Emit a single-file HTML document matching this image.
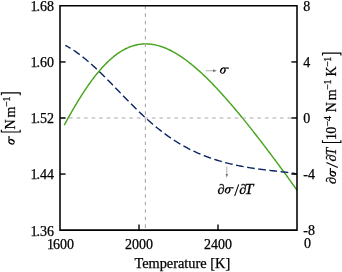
<!DOCTYPE html>
<html><head><meta charset="utf-8"><style>
html,body{margin:0;padding:0;background:#fff;}
svg{display:block;will-change:transform;}
text{font-family:"Liberation Serif",serif;font-size:14px;fill:#000;stroke:#000;stroke-width:0.25px;}
</style></head><body>
<svg width="342" height="272" viewBox="0 0 342 272">
<defs><g id="sig"><path fill-rule="evenodd" fill="#000" d="M5.342,-1.888 A2.75,3.1 25 1 1 0.358,-4.212 A2.75,3.1 25 1 1 5.342,-1.888 Z M4.028,-2.501 A1.3,2.3 25 1 0 1.672,-3.599 A1.3,2.3 25 1 0 4.028,-2.501 Z"/><path d="M2.6,-6.15 L8.8,-6.2 L8.8,-4.95 L4.8,-5.15 Z" fill="#000"/></g></defs>
<rect width="342" height="272" fill="#fff"/>
<g class="t">
<path d="M64.20,125.24 L65.20,123.39 L66.20,121.56 L67.20,119.74 L68.20,117.93 L69.20,116.14 L70.20,114.36 L71.20,112.60 L72.20,110.86 L73.20,109.13 L74.20,107.42 L75.20,105.72 L76.20,104.04 L77.20,102.38 L78.20,100.74 L79.20,99.12 L80.20,97.51 L81.20,95.93 L82.20,94.36 L83.20,92.82 L84.20,91.29 L85.20,89.78 L86.20,88.30 L87.20,86.83 L88.20,85.39 L89.20,83.97 L90.20,82.57 L91.20,81.19 L92.20,79.84 L93.20,78.51 L94.20,77.20 L95.20,75.92 L96.20,74.65 L97.20,73.42 L98.20,72.20 L99.20,71.01 L100.20,69.85 L101.20,68.71 L102.20,67.59 L103.20,66.50 L104.20,65.43 L105.20,64.39 L106.20,63.38 L107.20,62.39 L108.20,61.42 L109.20,60.49 L110.20,59.57 L111.20,58.69 L112.20,57.82 L113.20,56.99 L114.20,56.18 L115.20,55.40 L116.20,54.64 L117.20,53.91 L118.20,53.21 L119.20,52.53 L120.20,51.88 L121.20,51.25 L122.20,50.65 L123.20,50.08 L124.20,49.53 L125.20,49.01 L126.20,48.51 L127.20,48.04 L128.20,47.60 L129.20,47.18 L130.20,46.79 L131.20,46.42 L132.20,46.08 L133.20,45.77 L134.20,45.47 L135.20,45.21 L136.20,44.97 L137.20,44.75 L138.20,44.56 L139.20,44.39 L140.20,44.25 L141.20,44.13 L142.20,44.04 L143.20,43.96 L144.20,43.92 L145.20,43.89 L146.20,43.89 L147.20,43.91 L148.20,43.96 L149.20,44.02 L150.20,44.11 L151.20,44.23 L152.20,44.36 L153.20,44.51 L154.20,44.69 L155.20,44.89 L156.20,45.11 L157.20,45.35 L158.20,45.61 L159.20,45.89 L160.20,46.19 L161.20,46.51 L162.20,46.85 L163.20,47.21 L164.20,47.59 L165.20,47.99 L166.20,48.40 L167.20,48.84 L168.20,49.29 L169.20,49.76 L170.20,50.25 L171.20,50.76 L172.20,51.28 L173.20,51.82 L174.20,52.38 L175.20,52.95 L176.20,53.54 L177.20,54.14 L178.20,54.76 L179.20,55.40 L180.20,56.05 L181.20,56.72 L182.20,57.40 L183.20,58.09 L184.20,58.80 L185.20,59.53 L186.20,60.26 L187.20,61.01 L188.20,61.78 L189.20,62.56 L190.20,63.35 L191.20,64.15 L192.20,64.96 L193.20,65.79 L194.20,66.63 L195.20,67.48 L196.20,68.35 L197.20,69.22 L198.20,70.11 L199.20,71.01 L200.20,71.91 L201.20,72.83 L202.20,73.76 L203.20,74.70 L204.20,75.65 L205.20,76.61 L206.20,77.58 L207.20,78.56 L208.20,79.55 L209.20,80.54 L210.20,81.55 L211.20,82.57 L212.20,83.59 L213.20,84.62 L214.20,85.66 L215.20,86.71 L216.20,87.77 L217.20,88.84 L218.20,89.91 L219.20,90.99 L220.20,92.08 L221.20,93.18 L222.20,94.28 L223.20,95.39 L224.20,96.51 L225.20,97.63 L226.20,98.76 L227.20,99.90 L228.20,101.04 L229.20,102.19 L230.20,103.35 L231.20,104.51 L232.20,105.68 L233.20,106.86 L234.20,108.04 L235.20,109.22 L236.20,110.41 L237.20,111.61 L238.20,112.81 L239.20,114.02 L240.20,115.23 L241.20,116.45 L242.20,117.67 L243.20,118.90 L244.20,120.13 L245.20,121.37 L246.20,122.61 L247.20,123.86 L248.20,125.11 L249.20,126.36 L250.20,127.62 L251.20,128.88 L252.20,130.15 L253.20,131.42 L254.20,132.70 L255.20,133.97 L256.20,135.26 L257.20,136.54 L258.20,137.83 L259.20,139.12 L260.20,140.42 L261.20,141.72 L262.20,143.02 L263.20,144.33 L264.20,145.64 L265.20,146.95 L266.20,148.27 L267.20,149.58 L268.20,150.91 L269.20,152.23 L270.20,153.56 L271.20,154.89 L272.20,156.22 L273.20,157.56 L274.20,158.89 L275.20,160.24 L276.20,161.58 L277.20,162.93 L278.20,164.28 L279.20,165.63 L280.20,166.98 L281.20,168.34 L282.20,169.70 L283.20,171.07 L284.20,172.43 L285.20,173.80 L286.20,175.17 L287.20,176.55 L288.20,177.93 L289.20,179.31 L290.20,180.70 L291.20,182.09 L292.20,183.48 L293.20,184.88 L294.20,186.28 L295.20,187.69 L296.20,189.10 L297.00,190.23" fill="none" stroke="#47a41d" stroke-width="1.45"/>
<path d="M65.30,45.30 L66.30,45.85 L67.30,46.42 L68.30,47.00 L69.30,47.59 L70.30,48.20 L71.30,48.82 L72.30,49.46 L73.30,50.11 L74.30,50.77 L75.30,51.45 L76.30,52.14 L77.30,52.85 L78.30,53.57 L79.30,54.31 L80.30,55.06 L81.30,55.82 L82.30,56.60 L83.30,57.39 L84.30,58.19 L85.30,59.01 L86.30,59.83 L87.30,60.67 L88.30,61.53 L89.30,62.39 L90.30,63.26 L91.30,64.15 L92.30,65.05 L93.30,65.95 L94.30,66.87 L95.30,67.80 L96.30,68.73 L97.30,69.67 L98.30,70.63 L99.30,71.59 L100.30,72.55 L101.30,73.53 L102.30,74.51 L103.30,75.50 L104.30,76.49 L105.30,77.49 L106.30,78.50 L107.30,79.51 L108.30,80.52 L109.30,81.54 L110.30,82.56 L111.30,83.58 L112.30,84.61 L113.30,85.64 L114.30,86.67 L115.30,87.70 L116.30,88.74 L117.30,89.77 L118.30,90.80 L119.30,91.84 L120.30,92.87 L121.30,93.90 L122.30,94.94 L123.30,95.97 L124.30,96.99 L125.30,98.02 L126.30,99.04 L127.30,100.06 L128.30,101.08 L129.30,102.09 L130.30,103.10 L131.30,104.11 L132.30,105.11 L133.30,106.11 L134.30,107.10 L135.30,108.08 L136.30,109.06 L137.30,110.04 L138.30,111.01 L139.30,111.97 L140.30,112.92 L141.30,113.87 L142.30,114.81 L143.30,115.75 L144.30,116.67 L145.30,117.59 L146.30,118.50 L147.30,119.41 L148.30,120.30 L149.30,121.19 L150.30,122.07 L151.30,122.93 L152.30,123.80 L153.30,124.65 L154.30,125.49 L155.30,126.32 L156.30,127.15 L157.30,127.97 L158.30,128.77 L159.30,129.57 L160.30,130.36 L161.30,131.13 L162.30,131.90 L163.30,132.66 L164.30,133.41 L165.30,134.15 L166.30,134.88 L167.30,135.60 L168.30,136.31 L169.30,137.01 L170.30,137.70 L171.30,138.38 L172.30,139.05 L173.30,139.71 L174.30,140.37 L175.30,141.01 L176.30,141.64 L177.30,142.26 L178.30,142.88 L179.30,143.48 L180.30,144.08 L181.30,144.66 L182.30,145.24 L183.30,145.81 L184.30,146.36 L185.30,146.91 L186.30,147.45 L187.30,147.98 L188.30,148.51 L189.30,149.02 L190.30,149.53 L191.30,150.02 L192.30,150.51 L193.30,150.99 L194.30,151.46 L195.30,151.92 L196.30,152.38 L197.30,152.83 L198.30,153.27 L199.30,153.70 L200.30,154.12 L201.30,154.54 L202.30,154.95 L203.30,155.35 L204.30,155.74 L205.30,156.13 L206.30,156.51 L207.30,156.89 L208.30,157.25 L209.30,157.61 L210.30,157.97 L211.30,158.32 L212.30,158.66 L213.30,158.99 L214.30,159.32 L215.30,159.64 L216.30,159.96 L217.30,160.27 L218.30,160.58 L219.30,160.88 L220.30,161.17 L221.30,161.46 L222.30,161.74 L223.30,162.02 L224.30,162.30 L225.30,162.56 L226.30,162.83 L227.30,163.08 L228.30,163.34 L229.30,163.59 L230.30,163.83 L231.30,164.07 L232.30,164.30 L233.30,164.53 L234.30,164.76 L235.30,164.98 L236.30,165.20 L237.30,165.41 L238.30,165.62 L239.30,165.82 L240.30,166.02 L241.30,166.22 L242.30,166.41 L243.30,166.60 L244.30,166.79 L245.30,166.97 L246.30,167.14 L247.30,167.32 L248.30,167.49 L249.30,167.66 L250.30,167.82 L251.30,167.98 L252.30,168.14 L253.30,168.29 L254.30,168.44 L255.30,168.59 L256.30,168.73 L257.30,168.87 L258.30,169.01 L259.30,169.15 L260.30,169.28 L261.30,169.41 L262.30,169.54 L263.30,169.67 L264.30,169.79 L265.30,169.91 L266.30,170.03 L267.30,170.15 L268.30,170.26 L269.30,170.38 L270.30,170.49 L271.30,170.60 L272.30,170.71 L273.30,170.82 L274.30,170.93 L275.30,171.04 L276.30,171.15 L277.30,171.26 L278.30,171.37 L279.30,171.48 L280.30,171.59 L281.30,171.70 L282.30,171.82 L283.30,171.93 L284.30,172.05 L285.30,172.18 L286.30,172.30 L287.30,172.43 L288.30,172.56 L289.30,172.70 L290.30,172.84 L291.30,172.99 L292.30,173.15 L293.30,173.31 L294.30,173.48 L295.30,173.65 L296.30,173.84 L297.00,173.98" fill="none" stroke="#0a2562" stroke-width="1.4" stroke-dasharray="7.7 3.55" stroke-dashoffset="1.7"/>
<line x1="61.47" y1="118.0" x2="297.0" y2="118.0" stroke="#a9a9a9" stroke-width="1.1" stroke-dasharray="3.6 3.936"/>
<line x1="145.4" y1="5.76" x2="145.4" y2="230.1" stroke="#a9a9a9" stroke-width="1.1" stroke-dasharray="3.6 3.936"/>
<path d="M60.0,5.8 H297.0 M297.0,5.8 V230.1 M60.0,230.1 H297.0 M60.0,5.8 V230.1" fill="none" stroke="#000" stroke-width="1.55" stroke-linecap="square"/>
<line x1="60.0" y1="61.95" x2="65.6" y2="61.95" stroke="#000" stroke-width="1.4"/>
<line x1="291.4" y1="61.95" x2="297.0" y2="61.95" stroke="#000" stroke-width="1.4"/>
<line x1="60.0" y1="118.00" x2="65.6" y2="118.00" stroke="#000" stroke-width="1.4"/>
<line x1="291.4" y1="118.00" x2="297.0" y2="118.00" stroke="#000" stroke-width="1.4"/>
<line x1="60.0" y1="174.05" x2="65.6" y2="174.05" stroke="#000" stroke-width="1.4"/>
<line x1="291.4" y1="174.05" x2="297.0" y2="174.05" stroke="#000" stroke-width="1.4"/>
<line x1="139.00" y1="230.1" x2="139.00" y2="224.5" stroke="#000" stroke-width="1.4"/>
<line x1="218.00" y1="230.1" x2="218.00" y2="224.5" stroke="#000" stroke-width="1.4"/>
<text x="54.1" y="11.15" text-anchor="end">.68</text>
<text x="30.40" y="11.15">1</text>
<text x="54.1" y="67.05" text-anchor="end">.60</text>
<text x="30.40" y="67.05">1</text>
<text x="54.1" y="122.95" text-anchor="end">.52</text>
<text x="30.40" y="122.95">1</text>
<text x="54.1" y="178.85" text-anchor="end">.44</text>
<text x="30.40" y="178.85">1</text>
<text x="54.1" y="235.65" text-anchor="end">.36</text>
<text x="30.40" y="235.65">1</text>
<text x="303.3" y="11.05">8</text>
<text x="303.3" y="66.95">4</text>
<text x="303.3" y="122.85">0</text>
<text x="303.3" y="178.75">-4</text>
<text x="303.3" y="235.15">-8</text>
<text x="46.90" y="248.5">1</text>
<text x="53.00" y="248.5">600</text>
<text x="139.00" y="248.5" text-anchor="middle">2000</text>
<text x="218.00" y="248.5" text-anchor="middle">2400</text>
<text x="303.9" y="248.1">0</text>
<text x="134.4" y="267.9" style="font-size:14.35px">Temperature [K]</text>
<line x1="205.6" y1="70.7" x2="213.5" y2="70.7" stroke="#b8b8b8" stroke-width="1.15"/><path d="M213.0,69.2 L216.8,70.7 L213.0,72.2 Z" fill="#7a7a7a"/>
<use href="#sig" transform="translate(220.0,73.7)"/>
<line x1="226.8" y1="166.6" x2="226.8" y2="174.6" stroke="#b8b8b8" stroke-width="1.15"/><path d="M225.5,174.1 L226.8,177.8 L228.1,174.1 Z" fill="#7a7a7a"/>
<text x="217.6" y="193.5" font-style="italic">∂</text>
<use href="#sig" transform="translate(224.8,193.5)"/>
<path d="M238.7,184.40 L234.7,195.90" stroke="#000" stroke-width="1.05"/>
<text x="239.2" y="193.5" font-style="italic">∂</text>
<text x="0" y="0" font-style="italic" transform="translate(244.6,193.5) scale(1.14,1)">T</text>
<use href="#sig" transform="translate(14.6,144.7) rotate(-90)"/>
<path d="M1.4,129.65 L1.4,131.95 L20.2,131.95 L20.2,129.65" fill="none" stroke="#000" stroke-width="1.15"/>
<text x="0" y="0" style="font-size:14px" transform="translate(14.60,129.40) rotate(-90)">N</text>
<text x="0" y="0" style="font-size:14px" transform="translate(14.60,117.43) rotate(-90)">m</text>
<text x="0" y="0" style="font-size:10px" transform="translate(10.25,106.67) rotate(-90)">−</text>
<text x="0" y="0" style="font-size:10px" transform="translate(9.70,101.54) rotate(-90)">1</text>
<path d="M1.4,95.15 L1.4,92.85 L20.2,92.85 L20.2,95.15" fill="none" stroke="#000" stroke-width="1.15"/>
<text x="0" y="0" style="font-size:14px" font-style="italic" transform="translate(336.00,184.00) rotate(-90)">∂</text>
<use href="#sig" transform="translate(336.0,176.7) rotate(-90)"/>
<path d="M326.40,162.4 L337.80,167.5" stroke="#000" stroke-width="1.05"/>
<text x="0" y="0" style="font-size:14px" font-style="italic" transform="translate(336.00,161.50) rotate(-90)">∂</text>
<text x="0" y="0" style="font-size:14px" font-style="italic" transform="translate(336.00,155.41) rotate(-90)">T</text>
<path d="M322.5,140.20 L322.5,142.50 L340.9,142.50 L340.9,140.20" fill="none" stroke="#000" stroke-width="1.15"/>
<text x="0" y="0" style="font-size:14px" transform="translate(336.00,140.09) rotate(-90)">1</text>
<text x="0" y="0" style="font-size:14px" transform="translate(336.00,133.65) rotate(-90)">0</text>
<text x="0" y="0" style="font-size:10px" transform="translate(331.30,126.57) rotate(-90)">−</text>
<text x="0" y="0" style="font-size:10px" transform="translate(330.80,121.07) rotate(-90)">4</text>
<text x="0" y="0" style="font-size:14px" transform="translate(336.00,112.15) rotate(-90)">N</text>
<text x="0" y="0" style="font-size:14px" transform="translate(336.00,100.28) rotate(-90)">m</text>
<text x="0" y="0" style="font-size:10px" transform="translate(331.30,89.82) rotate(-90)">−</text>
<text x="0" y="0" style="font-size:10px" transform="translate(330.80,84.54) rotate(-90)">1</text>
<text x="0" y="0" style="font-size:14px" transform="translate(336.00,76.44) rotate(-90)">K</text>
<text x="0" y="0" style="font-size:10px" transform="translate(331.30,66.72) rotate(-90)">−</text>
<text x="0" y="0" style="font-size:10px" transform="translate(330.80,61.64) rotate(-90)">1</text>
<path d="M322.5,55.40 L322.5,53.10 L340.9,53.10 L340.9,55.40" fill="none" stroke="#000" stroke-width="1.15"/>
</g>
</svg>
</body></html>
